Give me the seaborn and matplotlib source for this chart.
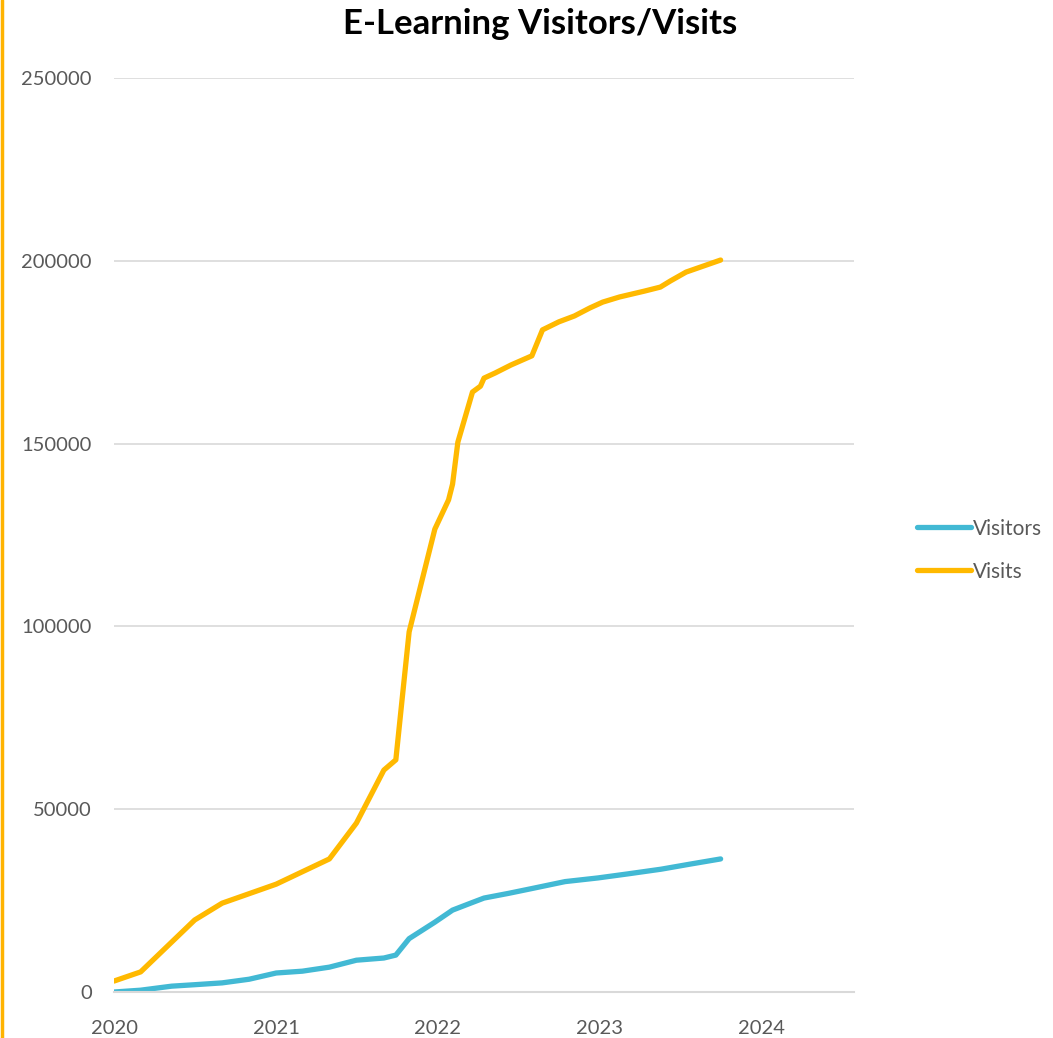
import pandas as pd
import numpy as np
import matplotlib
matplotlib.use('Agg')
import matplotlib.pyplot as plt
import matplotlib.dates as mdates
from matplotlib.lines import Line2D
import seaborn as sns

# valores
visits_dates = ['2020-01-01', '2020-03-01', '2020-07-01', '2020-09-01', '2021-01-01',
                '2021-05-01', '2021-07-01', '2021-09-01', '2021-09-28', '2021-10-12',
                '2021-10-28', '2021-12-25', '2022-01-25', '2022-02-03', '2022-02-15',
                '2022-03-20', '2022-04-07', '2022-04-15', '2022-05-10', '2022-06-15',
                '2022-08-01', '2022-08-25', '2022-10-01', '2022-11-05', '2022-12-10',
                '2023-01-08', '2023-02-15', '2023-04-12', '2023-05-18', '2023-06-10',
                '2023-07-15', '2023-10-01']
visits = [3000, 5500, 19700, 24300, 29500,
          36400, 46200, 60700, 63500, 79900,
          98500, 126600, 134600, 138900, 150400,
          164100, 165700, 167900, 169300, 171500,
          174000, 181100, 183300, 184900, 187100,
          188700, 190100, 191700, 192800, 194500,
          196900, 200200]

visitors_dates = ['2020-01-01', '2020-03-01', '2020-05-10', '2020-07-01', '2020-09-01',
                  '2020-11-01', '2021-01-01', '2021-03-01', '2021-05-01', '2021-07-01',
                  '2021-09-01', '2021-09-28', '2021-10-28', '2021-12-25', '2022-02-03',
                  '2022-03-20', '2022-04-15', '2022-06-10', '2022-08-01', '2022-10-15',
                  '2022-12-28', '2023-03-05', '2023-05-20', '2023-07-25', '2023-10-01']
visitors = [0, 500, 1600, 2000, 2500,
            3500, 5200, 5700, 6800, 8700,
            9300, 10100, 14600, 19100, 22400,
            24500, 25700, 27000, 28300, 30200,
            31200, 32300, 33600, 35000, 36400]

series_names = ['Visitors', 'Visits']
cores = ['#42B9D4', '#FFB900']

df = pd.concat([
    pd.DataFrame({'data': pd.to_datetime(visitors_dates), 'valor': visitors, 'serie': 'Visitors'}),
    pd.DataFrame({'data': pd.to_datetime(visits_dates), 'valor': visits, 'serie': 'Visits'}),
])

sns.set_style('white')
plt.rcParams['font.family'] = ['Lato', 'DejaVu Sans']

fig = plt.figure(figsize=(10.53, 10.38), dpi=100)
ax = fig.add_axes([0.1083, 0.0443, 0.7027, 0.8806])

sns.lineplot(data=df, x='data', y='valor', hue='serie', hue_order=series_names,
             palette=cores, linewidth=3.8, ax=ax, legend=False, sort=False,
             solid_capstyle='round', solid_joinstyle='round')

ax.set_ylim(0, 250000)
ax.set_xlim(pd.Timestamp('2020-01-01'), pd.Timestamp('2024-07-28'))
ax.set_yticks(np.arange(0, 250001, 50000))
ax.yaxis.grid(True, color='#d9d9d9', linewidth=1.2)
ax.set_axisbelow(True)

ax.xaxis.set_major_locator(mdates.YearLocator())
ax.xaxis.set_major_formatter(mdates.DateFormatter('%Y'))
ax.xaxis.set_minor_locator(mdates.MonthLocator(bymonth=7))

for s in ['top', 'right', 'left']:
    ax.spines[s].set_visible(False)
ax.spines['bottom'].set_color('#d9d9d9')
ax.spines['bottom'].set_linewidth(1.5)

ax.tick_params(axis='x', which='major', length=6, width=1.5, color='#d9d9d9',
               pad=20, labelsize=14.5, labelcolor='#595959')
ax.tick_params(axis='x', which='minor', length=5, width=1.5, color='#d9d9d9')
ax.tick_params(axis='y', length=0, pad=16, labelsize=14.5, labelcolor='#595959')
for lbl in ax.get_xticklabels():
    lbl.set_verticalalignment('center')
ax.set_xlabel('')
ax.set_ylabel('')

fig.text(0.513, 0.977, 'E-Learning Visitors/Visits', ha='center', va='center',
         fontsize=25, fontweight='bold', color='black')

handles = [Line2D([0], [0], color=c, linewidth=3.8, solid_capstyle='round') for c in cores]
fig.legend(handles, series_names, loc='center left', bbox_to_anchor=(0.857, 0.470),
           frameon=False, fontsize=15, handlelength=2.6, handletextpad=0.1,
           labelspacing=1.1, labelcolor='#595959', borderpad=0.2)

# borda laranja na esquerda
fig.add_artist(Line2D([0.0015, 0.0015], [0, 1], color='#FFB300', linewidth=2.5,
                      transform=fig.transFigure))

plt.savefig('out.png', dpi=100)
